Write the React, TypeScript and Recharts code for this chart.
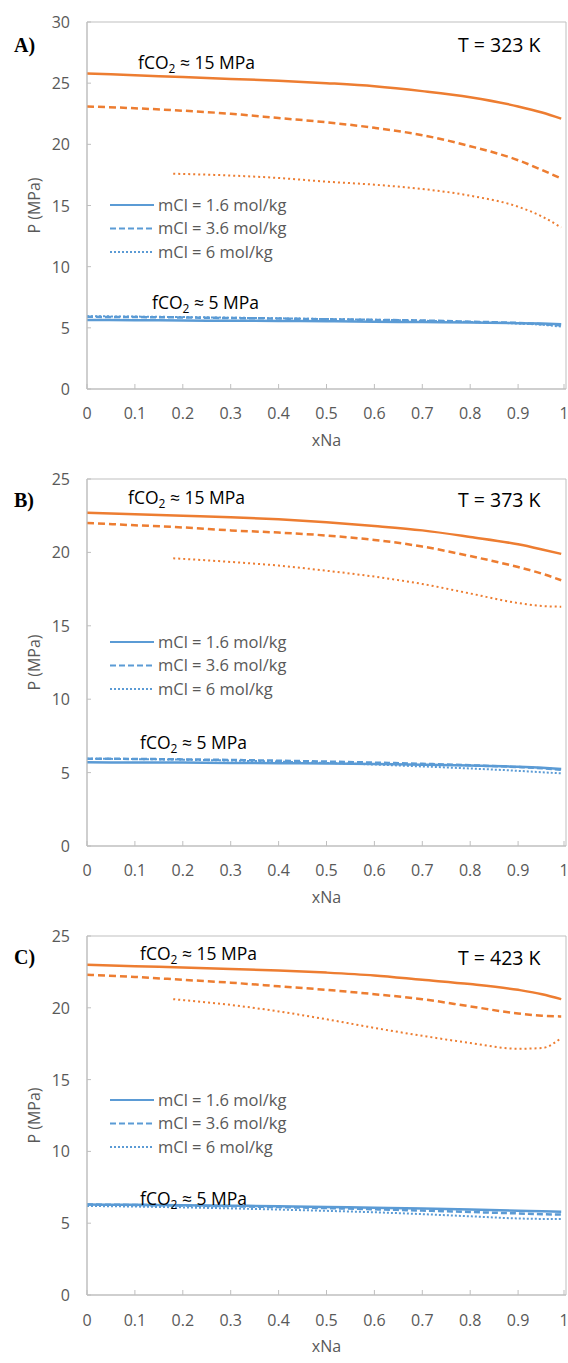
import React from 'react';
import { LineChart, Line, XAxis, YAxis, ReferenceArea } from 'recharts';

const ORANGE = '#ED7D31';
const BLUE = '#5B9BD5';
const GREY = '#595959';
const FONT = '"Open Sans", sans-serif';

// x positions (mole fraction of Na)
const xFull = [0, 0.1, 0.2, 0.3, 0.4, 0.5, 0.6, 0.7, 0.8, 0.9, 0.95, 0.99];
const xPart = [0.18, 0.3, 0.4, 0.5, 0.6, 0.7, 0.8, 0.9, 0.95, 0.99];
const xTicks = [0, 0.1, 0.2, 0.3, 0.4, 0.5, 0.6, 0.7, 0.8, 0.9, 1];

// Panel A, T = 323 K
const a15Solid = [25.8, 25.65, 25.5, 25.35, 25.2, 25.0, 24.75, 24.35, 23.85, 23.1, 22.6, 22.1];
const a15Dash = [23.1, 22.95, 22.75, 22.5, 22.15, 21.8, 21.35, 20.75, 19.85, 18.7, 17.9, 17.2];
const a15Dot = [17.6, 17.45, 17.25, 16.95, 16.7, 16.35, 15.8, 14.9, 14.1, 13.2];
const a5Solid = [5.65, 5.63, 5.6, 5.58, 5.56, 5.54, 5.5, 5.47, 5.43, 5.38, 5.35, 5.3];
const a5Dash = [5.9, 5.88, 5.85, 5.8, 5.76, 5.7, 5.65, 5.6, 5.5, 5.4, 5.3, 5.2];
const a5Dot = [5.95, 5.92, 5.88, 5.83, 5.78, 5.72, 5.66, 5.58, 5.48, 5.35, 5.25, 5.1];

// Panel B, T = 373 K
const b15Solid = [22.7, 22.6, 22.5, 22.4, 22.25, 22.05, 21.8, 21.5, 21.05, 20.55, 20.2, 19.9];
const b15Dash = [22.0, 21.85, 21.7, 21.5, 21.35, 21.15, 20.85, 20.4, 19.75, 19.0, 18.55, 18.1];
const b15Dot = [19.6, 19.35, 19.1, 18.75, 18.35, 17.85, 17.2, 16.55, 16.35, 16.3];
const b5Solid = [5.7, 5.69, 5.68, 5.66, 5.64, 5.62, 5.58, 5.54, 5.48, 5.4, 5.33, 5.25];
const b5Dash = [5.95, 5.93, 5.9, 5.86, 5.81, 5.75, 5.68, 5.6, 5.5, 5.38, 5.3, 5.2];
const b5Dot = [5.95, 5.92, 5.88, 5.82, 5.75, 5.66, 5.55, 5.42, 5.28, 5.12, 5.02, 4.95];

// Panel C, T = 423 K
const c15Solid = [23.0, 22.9, 22.8, 22.7, 22.6, 22.45, 22.25, 21.95, 21.65, 21.25, 20.95, 20.6];
const c15Dash = [22.3, 22.15, 21.95, 21.75, 21.5, 21.25, 20.95, 20.6, 20.1, 19.6, 19.45, 19.4];
const c15Dot = [20.6, 20.2, 19.75, 19.2, 18.6, 18.05, 17.55, 17.15, 17.2, 17.9];
const c5Solid = [6.3, 6.28, 6.25, 6.22, 6.18, 6.13, 6.08, 6.02, 5.95, 5.87, 5.83, 5.8];
const c5Dash = [6.3, 6.27, 6.23, 6.18, 6.12, 6.05, 5.97, 5.88, 5.78, 5.68, 5.63, 5.6];
const c5Dot = [6.2, 6.16, 6.1, 6.03, 5.95, 5.86, 5.76, 5.63, 5.48, 5.33, 5.3, 5.3];

const legendLabels = ['mCl = 1.6 mol/kg', 'mCl = 3.6 mol/kg', 'mCl = 6 mol/kg'];

const toPoints = (xs: number[], ys: number[]) => xs.map((x, i) => ({ x, y: ys[i] }));

const W = 568;
const X_AXIS_H = 68;
const Y_AXIS_W = 87;
const DASHES = [undefined, '6 3', '2 2'];

type Pos = { x: number; y: number };

type PanelProps = {
  tag: string;
  temp: string;
  height: number;
  yMax: number;
  yTicks: number[];
  series: { xs: number[]; ys: number[]; color: string; width: number; dash?: string }[];
  tagPos: Pos;
  tempPos: Pos;
  hiPos: Pos;
  loPos: Pos;
  legendTop: number;
  tickGap: number;
};

const LegendBox = ({ top }: { top: number }) => (
  <svg width={260} height={75} style={{ position: 'absolute', left: 110, top: top - 10, overflow: 'visible' }}>
    {legendLabels.map((label, i) => (
      <g key={label}>
        <line x1={0} x2={44} y1={10 + i * 23.5} y2={10 + i * 23.5} stroke={BLUE} strokeWidth={2} strokeDasharray={DASHES[i]} />
        <text x={48} y={15.8 + i * 23.5} fontSize={16.5} fill={GREY} fontFamily={FONT}>
          {label}
        </text>
      </g>
    ))}
  </svg>
);

const Fco2 = ({ p, v }: { p: Pos; v: string }) => (
  <div style={{ position: 'absolute', left: p.x, top: p.y - 12, fontSize: 17.5, fontFamily: FONT, color: '#000', whiteSpace: 'nowrap', lineHeight: '24px' }}>
    fCO<sub style={{ fontSize: 12, verticalAlign: -4 }}>2</sub> ≈ {v} MPa
  </div>
);

const Panel = (p: PanelProps) => {
  const plotBottom = p.height - X_AXIS_H;
  const XTick = (props: any) => {
    const { x, payload } = props;
    return (
      <g>
        <line x1={x} x2={x} y1={plotBottom} y2={plotBottom - 5} stroke="#bfbfbf" />
        <text x={x} y={plotBottom + p.tickGap + 6} textAnchor="middle" fontSize={16} fill={GREY} fontFamily={FONT}>
          {payload.value}
        </text>
      </g>
    );
  };
  const YTick = (props: any) => {
    const { y, payload } = props;
    return (
      <g>
        <line x1={Y_AXIS_W} x2={Y_AXIS_W + 4} y1={y} y2={y} stroke="#bfbfbf" />
        <text x={Y_AXIS_W - 17} y={y + 6} textAnchor="end" fontSize={16} fill={GREY} fontFamily={FONT}>
          {payload.value}
        </text>
      </g>
    );
  };
  return (
    <div style={{ position: 'relative', width: W, height: p.height }}>
      <LineChart width={W} height={p.height} margin={{ top: 22, right: 2, bottom: 0, left: 0 }}>
        <XAxis
          type="number"
          dataKey="x"
          domain={[0, 1]}
          ticks={xTicks}
          height={X_AXIS_H}
          tickLine={false}
          tickSize={0}
          tick={XTick}
          stroke="#bfbfbf"
          allowDuplicatedCategory={false}
          label={{ value: 'xNa', position: 'insideBottom', offset: p.height - plotBottom - 57, fill: GREY, fontSize: 16, fontFamily: FONT }}
        />
        <YAxis
          type="number"
          dataKey="y"
          domain={[0, p.yMax]}
          ticks={p.yTicks}
          width={Y_AXIS_W}
          tickLine={false}
          axisLine={{ stroke: '#bfbfbf' }}
          tick={YTick}
          label={{ value: 'P (MPa)', angle: -90, position: 'insideLeft', offset: 34, fill: GREY, fontSize: 16, fontFamily: FONT, style: { textAnchor: 'middle' } }}
        />
        <ReferenceArea x1={0} x2={1} y1={0} y2={p.yMax} fill="none" stroke="#bfbfbf" strokeWidth={1} ifOverflow="visible" />
        {p.series.map((s, i) => (
          <Line
            key={i}
            data={toPoints(s.xs, s.ys)}
            dataKey="y"
            type="monotone"
            stroke={s.color}
            strokeWidth={s.width}
            strokeDasharray={s.dash}
            dot={false}
            isAnimationActive={false}
          />
        ))}
      </LineChart>
      <LegendBox top={p.legendTop} />
      <div style={{ position: 'absolute', left: p.tagPos.x, top: p.tagPos.y - 12, fontFamily: '"Liberation Serif", serif', fontWeight: 'bold', fontSize: 20, lineHeight: '24px' }}>
        {p.tag}
      </div>
      <div style={{ position: 'absolute', left: p.tempPos.x, top: p.tempPos.y - 13, fontFamily: FONT, fontSize: 19.5, lineHeight: '26px', whiteSpace: 'nowrap' }}>
        {p.temp}
      </div>
      <Fco2 p={p.hiPos} v="15" />
      <Fco2 p={p.loPos} v="5" />
    </div>
  );
};

const mkSeries = (s15: number[], d15: number[], o15: number[], s5: number[], d5: number[], o5: number[]) => [
  { xs: xFull, ys: s15, color: ORANGE, width: 2.5 },
  { xs: xFull, ys: d15, color: ORANGE, width: 2.5, dash: '7 4' },
  { xs: xPart, ys: o15, color: ORANGE, width: 2, dash: '2 3' },
  { xs: xFull, ys: s5, color: BLUE, width: 2.5 },
  { xs: xFull, ys: d5, color: BLUE, width: 2.5, dash: '6 3' },
  { xs: xFull, ys: o5, color: BLUE, width: 2, dash: '2 2' },
];

export default function App() {
  return (
    <div style={{ position: 'absolute', left: 0, top: 0, width: W, background: '#fff' }}>
      <Panel
        tag="A)"
        temp="T = 323 K"
        height={457}
        yMax={30}
        yTicks={[0, 5, 10, 15, 20, 25, 30]}
        series={mkSeries(a15Solid, a15Dash, a15Dot, a5Solid, a5Dash, a5Dot)}
        tagPos={{ x: 14, y: 45 }}
        tempPos={{ x: 458, y: 45 }}
        hiPos={{ x: 138, y: 62 }}
        loPos={{ x: 152, y: 302 }}
        legendTop={205}
        tickGap={24}
      />
      <Panel
        tag="B)"
        temp="T = 373 K"
        height={457}
        yMax={25}
        yTicks={[0, 5, 10, 15, 20, 25]}
        series={mkSeries(b15Solid, b15Dash, b15Dot, b5Solid, b5Dash, b5Dot)}
        tagPos={{ x: 14, y: 43 }}
        tempPos={{ x: 458, y: 43 }}
        hiPos={{ x: 128, y: 40 }}
        loPos={{ x: 140, y: 285 }}
        legendTop={185}
        tickGap={24}
      />
      <Panel
        tag="C)"
        temp="T = 423 K"
        height={449}
        yMax={25}
        yTicks={[0, 5, 10, 15, 20, 25]}
        series={mkSeries(c15Solid, c15Dash, c15Dot, c5Solid, c5Dash, c5Dot)}
        tagPos={{ x: 14, y: 43 }}
        tempPos={{ x: 458, y: 44 }}
        hiPos={{ x: 140, y: 39 }}
        loPos={{ x: 140, y: 284 }}
        legendTop={186}
        tickGap={25}
      />
    </div>
  );
}
